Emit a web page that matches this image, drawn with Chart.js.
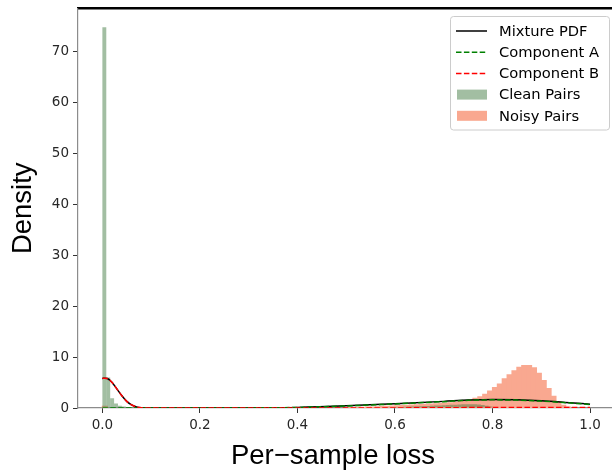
<!DOCTYPE html>
<html>
<head>
<meta charset="utf-8">
<script src="https://cdn.jsdelivr.net/npm/chart.js@4.4.1/dist/chart.umd.min.js"></script>
<style>
  html, body { margin: 0; padding: 0; background: #fff; }
</style>
</head>
<body>
<canvas id="chart" width="612" height="474"></canvas>
<script>
// --- DATA ---
const xTickValues = [0, 0.2, 0.4, 0.6, 0.8, 1.0];
const yTickValues = [0, 10, 20, 30, 40, 50, 60, 70];
const xTitle = 'Per−sample loss';
const yTitle = 'Density';

// clean pairs histogram (bin centres, bin width 0.008)
const cleanBins = [0.004, 0.012, 0.020, 0.028, 0.036, 0.044, 0.052, 0.060, 0.068, 0.076, 0.084, 0.092, 0.100,
  0.548, 0.556, 0.564, 0.572, 0.580, 0.588, 0.596, 0.604, 0.612, 0.620, 0.628, 0.636, 0.644, 0.652, 0.660,
  0.668, 0.676, 0.684, 0.692, 0.700, 0.708, 0.716, 0.724, 0.732, 0.740, 0.748, 0.756, 0.764, 0.772, 0.780,
  0.788, 0.796];
const cleanDensity = [74.7, 6.0, 1.9, 0.9, 0.45, 0.3, 0.2, 0.15, 0.12, 0.1, 0.08, 0.06, 0.05,
  0.08, 0.1, 0.1, 0.12, 0.14, 0.15, 0.17, 0.2, 0.22, 0.25, 0.27, 0.3, 0.32, 0.35, 0.38,
  0.4, 0.45, 0.48, 0.5, 0.55, 0.58, 0.62, 0.65, 0.7, 0.72, 0.75, 0.75, 0.72, 0.68, 0.6,
  0.45, 0.3];

// noisy pairs histogram (bin centres, bin width 0.01)
const noisyBins = [0.005,
  0.505, 0.515, 0.525, 0.535, 0.545, 0.555, 0.565, 0.575, 0.585, 0.595,
  0.605, 0.615, 0.625, 0.635, 0.645, 0.655, 0.665, 0.675, 0.685, 0.695,
  0.705, 0.715, 0.725, 0.735, 0.745, 0.755, 0.765, 0.775, 0.785, 0.795,
  0.805, 0.815, 0.825, 0.835, 0.845, 0.855, 0.865, 0.875, 0.885, 0.895,
  0.905, 0.915, 0.925, 0.935, 0.945, 0.955];
const noisyDensity = [0.3,
  0.1, 0.1, 0.15, 0.15, 0.2, 0.2, 0.25, 0.3, 0.3, 0.35,
  0.4, 0.45, 0.5, 0.55, 0.6, 0.65, 0.7, 0.75, 0.8, 0.9,
  0.95, 1.0, 1.1, 1.25, 1.4, 1.6, 1.9, 2.2, 2.7, 3.3,
  4.0, 4.7, 5.7, 6.5, 7.3, 8.0, 8.3, 8.3, 7.9, 6.8,
  5.4, 3.8, 2.3, 1.2, 0.5, 0.2];

// fitted curves
const mixX = [0, 0.005, 0.01, 0.02, 0.03, 0.04, 0.05, 0.06, 0.07, 0.08, 0.1, 0.2, 0.3, 0.4, 0.5, 0.6, 0.7, 0.75, 0.8, 0.85, 0.9, 0.95, 1.0];
const mixY = [5.8, 5.85, 5.8, 5.0, 3.7, 2.4, 1.3, 0.6, 0.2, 0.05, 0.0, 0.0, 0.02, 0.12, 0.42, 0.85, 1.3, 1.55, 1.68, 1.62, 1.42, 1.1, 0.75];
const compAX = [0, 0.1, 0.2, 0.3, 0.4, 0.5, 0.6, 0.7, 0.75, 0.8, 0.85, 0.9, 0.95, 1.0];
const compAY = [0, 0, 0, 0.02, 0.1, 0.4, 0.8, 1.25, 1.5, 1.6, 1.55, 1.35, 1.05, 0.7];
const compBX = [0, 0.005, 0.01, 0.02, 0.03, 0.04, 0.05, 0.06, 0.07, 0.08, 0.1, 0.5, 0.7, 0.8, 0.9, 1.0];
const compBY = [5.8, 5.85, 5.8, 5.0, 3.7, 2.4, 1.3, 0.6, 0.2, 0.05, 0.0, 0.0, 0.05, 0.1, 0.1, 0.08];

function toPoints(xs, ys) {
  return xs.map((x, i) => ({ x: x, y: ys[i] }));
}

// legend inside the plot (top right) + x label, which sits left of the axis centre in the original
const extras = {
  id: 'extras',
  afterDraw(chart) {
    const ctx = chart.ctx;
    ctx.save();
    ctx.font = '27.5px "Liberation Sans"';
    ctx.fillStyle = '#000';
    ctx.textAlign = 'center';
    ctx.textBaseline = 'middle';
    ctx.fillText(xTitle, 333, 456);

    ctx.textAlign = 'left';
    ctx.beginPath();
    ctx.roundRect(450.5, 16.5, 159, 113.5, 3);
    ctx.fillStyle = 'rgba(255,255,255,0.8)';
    ctx.fill();
    ctx.strokeStyle = '#cccccc';
    ctx.lineWidth = 1;
    ctx.stroke();

    ctx.font = '14.7px "DejaVu Sans"';
    chart.data.datasets.forEach((ds, i) => {
      const y = 31 + i * 21.2;
      if (ds.type === 'line') {
        ctx.beginPath();
        ctx.setLineDash(ds.borderDash || []);
        ctx.strokeStyle = ds.borderColor;
        ctx.lineWidth = ds.borderWidth;
        ctx.moveTo(456, y);
        ctx.lineTo(487, y);
        ctx.stroke();
        ctx.setLineDash([]);
      } else {
        ctx.fillStyle = ds.legendColor || ds.backgroundColor;
        ctx.fillRect(457, y - 5, 30, 10);
      }
      ctx.fillStyle = '#000';
      ctx.fillText(ds.label, 499, y + 1);
    });
    ctx.restore();
  }
};

const dash = [5.5, 2.4];
const tickFont = { family: 'DejaVu Sans', size: 13.5 };
const zeroPad = s => { s.paddingLeft = 0; s.paddingRight = 0; s.paddingTop = 0; s.paddingBottom = 0; };

new Chart(document.getElementById('chart'), {
  type: 'bar',
  data: {
    datasets: [
      { type: 'line', label: 'Mixture PDF', data: toPoints(mixX, mixY), borderColor: '#000000', borderWidth: 1.5,
        pointRadius: 0, cubicInterpolationMode: 'monotone', xAxisID: 'x', yAxisID: 'y', order: 2 },
      { type: 'line', label: 'Component A', data: toPoints(compAX, compAY), borderColor: '#008000', borderWidth: 1.5,
        borderDash: dash, pointRadius: 0, cubicInterpolationMode: 'monotone', xAxisID: 'x', yAxisID: 'y', order: 1 },
      { type: 'line', label: 'Component B', data: toPoints(compBX, compBY), borderColor: '#ff0000', borderWidth: 1.5,
        borderDash: dash, pointRadius: 0, cubicInterpolationMode: 'monotone', xAxisID: 'x', yAxisID: 'y', order: 0 },
      { type: 'bar', label: 'Clean Pairs', data: toPoints(cleanBins, cleanDensity), backgroundColor: 'rgba(70,125,70,0.5)',
        borderWidth: 0, barPercentage: 1, categoryPercentage: 1, inflateAmount: 0, grouped: false,
        xAxisID: 'xc', yAxisID: 'y', order: 3 },
      { type: 'bar', label: 'Noisy Pairs', data: toPoints(noisyBins, noisyDensity), backgroundColor: '#f9a890',
        borderWidth: 0, barPercentage: 1, categoryPercentage: 1, inflateAmount: 0.6, grouped: false,
        xAxisID: 'xn', yAxisID: 'y', order: 4 }
    ]
  },
  options: {
    responsive: false,
    animation: false,
    devicePixelRatio: 1,
    layout: { padding: { top: 8.5, left: 0, right: 0, bottom: 0 } },
    plugins: { legend: { display: false }, tooltip: { enabled: false } },
    scales: {
      x: {
        type: 'linear', axis: 'x', position: 'bottom', min: -0.05, max: 1.045, offset: false,
        afterBuildTicks: s => { s.ticks = xTickValues.map(v => ({ value: v })); },
        afterFit: s => { s.height = 66; zeroPad(s); },
        grid: { display: true, offset: false, drawOnChartArea: false, drawTicks: true, tickLength: 5, tickColor: '#333', tickWidth: 1 },
        border: { display: true, color: '#8c8c8c', width: 1.2 },
        ticks: { color: '#262626', font: tickFont, padding: 4, maxRotation: 0, autoSkip: false,
                 callback: v => Number(v).toFixed(1) },
        title: { display: false }
      },
      xc: { type: 'linear', axis: 'x', position: 'bottom', display: false, min: -0.05, max: 1.045, offset: false },
      xn: { type: 'linear', axis: 'x', position: 'bottom', display: false, min: -0.05, max: 1.045, offset: false },
      xt: {
        type: 'linear', axis: 'x', position: 'top', display: true, min: 0, max: 1, offset: false,
        afterFit: s => { s.height = 0; zeroPad(s); },
        grid: { display: false, drawTicks: false },
        ticks: { display: false },
        border: { display: true, color: '#000', width: 2.5 }
      },
      y: {
        type: 'linear', position: 'left', min: 0, max: 78.4,
        afterBuildTicks: s => { s.ticks = yTickValues.map(v => ({ value: v })); },
        afterFit: s => { s.width = 78; zeroPad(s); },
        grid: { display: true, drawOnChartArea: false, drawTicks: true, tickLength: 5, tickColor: '#333', tickWidth: 1 },
        border: { display: true, color: '#8c8c8c', width: 1.2 },
        ticks: { color: '#262626', font: tickFont, padding: 4 },
        title: { display: true, text: yTitle, color: '#000',
                 font: { family: 'Liberation Sans', size: 27.5 }, padding: { top: 6.5, bottom: 0 } }
      }
    }
  },
  plugins: [extras]
});
</script>
</body>
</html>
